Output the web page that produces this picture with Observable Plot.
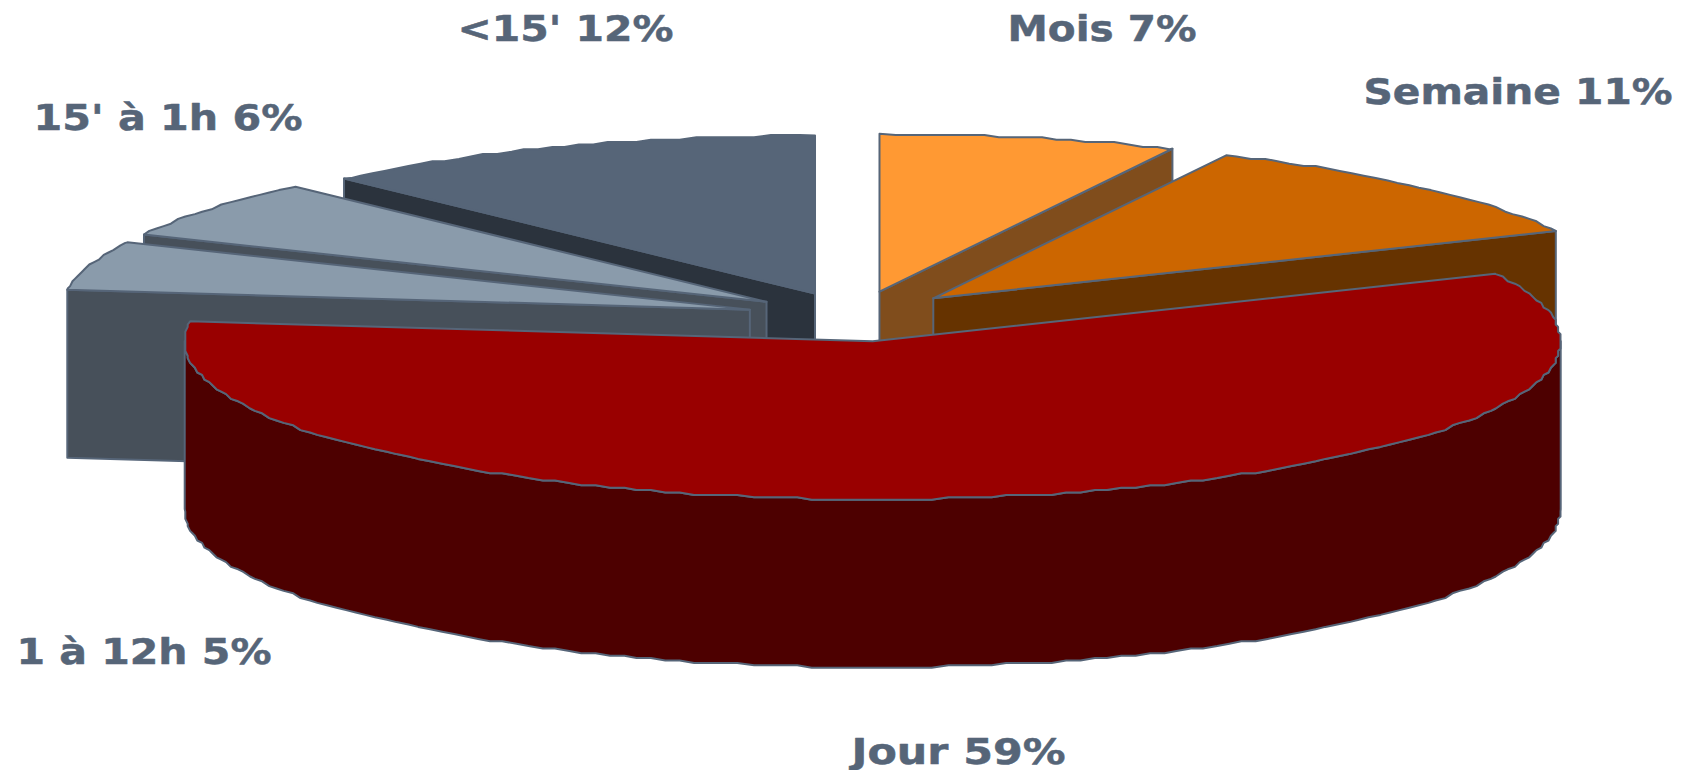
<!DOCTYPE html>
<html>
<head>
<meta charset="utf-8">
<script src="https://cdn.jsdelivr.net/npm/d3@7"></script>
<script src="https://cdn.jsdelivr.net/npm/@observablehq/plot@0.6"></script>
<style>
  html, body { margin: 0; padding: 0; background: #fff; }
  svg { display: block; }
</style>
</head>
<body>
<div id="chart"></div>
<script>
// Data, clockwise from 12 o'clock
const categories = ["Mois", "Semaine", "Jour", "1 à 12h", "15' à 1h", "<15'"];
const shares = [7, 11, 59, 5, 6, 12];

// Styles
const topColors  = ["#ff9933", "#cc6600", "#990000", "#8a9bab", "#8a9bab", "#566578"];
const sideColors = ["#804d1c", "#663300", "#4d0000", "#47505a", "#47505a", "#2b333d"];
const edgeColor = "#566578";
const labelColor = "#566578";

// Pie geometry, in chart units
const pie = {rx: 688, ry: 158, depth: 168, cx: 855, cy: 319, explodeX: 110, explodeY: 30, snap: 2.4, stepDeg: 1.25};
const lift = [1.5, 0, -8, -1.5, 0, 2];      // per-slice vertical perspective correction
const sideFace = ["end", "end", "rim", "start", "start", "start"];
const paintOrder = [0, 1, 5, 4, 3, 2];

// Label anchors (left edge, baseline) and rendered widths
const labelX = [1007, 1363, 851, 16, 33, 457];
const labelY = [40, 103, 763, 663, 129, 40];
const labelW = [189, 309, 214, 255, 269, 216];

const rad = d => d * Math.PI / 180;
const snap = v => Math.round(v / pie.snap) * pie.snap;

let acc = 0;
const slices = categories.map((name, i) => {
  const a0 = acc * 3.6, a1 = (acc + shares[i]) * 3.6;
  acc += shares[i];
  const mid = rad((a0 + a1) / 2);
  return {
    i, name, a0, a1,
    cx: pie.cx + pie.explodeX * Math.sin(mid),
    cy: pie.cy - pie.explodeY * Math.cos(mid) + lift[i]
  };
});

const rimPoint = (s, deg) => ({
  x: s.cx + pie.rx * Math.sin(rad(deg)),
  y: s.cy - pie.ry * Math.cos(rad(deg))
});
// Faceted outline: the end points stay exact, the sampled ones between are snapped
const arc = (s, a0, a1) => {
  const pts = [rimPoint(s, a0)];
  for (let k = Math.floor(a0 / pie.stepDeg) + 1; k * pie.stepDeg < a1; k++) {
    const p = rimPoint(s, k * pie.stepDeg);
    pts.push({x: snap(p.x), y: snap(p.y)});
  }
  pts.push(rimPoint(s, a1));
  return pts;
};

const topFace = s => {
  const apex = {x: s.cx, y: s.cy};
  return [apex, ...arc(s, s.a0, s.a1), apex];
};
const cutFace = (s, deg) => {
  const e = rimPoint(s, deg);
  const pts = [{x: s.cx, y: s.cy}, e, {x: e.x, y: e.y + pie.depth}, {x: s.cx, y: s.cy + pie.depth}];
  return [...pts, pts[0]];
};
const rimFace = s => {
  const a = arc(s, 90, 270);
  const b = a.map(p => ({x: p.x, y: p.y + pie.depth})).reverse();
  return [...a, ...b, a[0]];
};

const marks = [];
for (const idx of paintOrder) {
  const s = slices[idx];
  const side = sideFace[idx] === "rim" ? rimFace(s)
    : cutFace(s, sideFace[idx] === "end" ? s.a1 : s.a0);
  for (const [pts, fill] of [[side, sideColors[idx]], [topFace(s), topColors[idx]]]) {
    marks.push(Plot.line(pts, {
      x: "x", y: "y", fill, stroke: edgeColor, strokeWidth: 2,
      strokeLinejoin: "round", curve: "linear"
    }));
  }
}

marks.push(Plot.text(categories.map((c, i) => i), {
  x: i => labelX[i],
  y: i => labelY[i],
  text: i => `${categories[i]} ${shares[i]}%`,
  textAnchor: "start",
  lineAnchor: "bottom",
  fontFamily: "DejaVu Sans",
  fontWeight: "bold",
  fontSize: 36,
  fill: labelColor,
  stroke: labelColor,
  strokeWidth: 0.5,
  className: "pie-label"
}));

const chart = Plot.plot({
  width: 1686,
  height: 770,
  margin: 0,
  style: {background: "#fff", overflow: "visible"},
  x: {domain: [0, 1686], range: [0, 1686], axis: null},
  y: {domain: [0, 770], range: [0, 770], axis: null},
  marks
});
document.getElementById("chart").append(chart);

// The reference's labels are a stretched bold face: widen the same real text
chart.querySelectorAll(".pie-label text").forEach((t, n) => {
  t.setAttribute("textLength", labelW[n]);
  t.setAttribute("lengthAdjust", "spacingAndGlyphs");
});
</script>
</body>
</html>
